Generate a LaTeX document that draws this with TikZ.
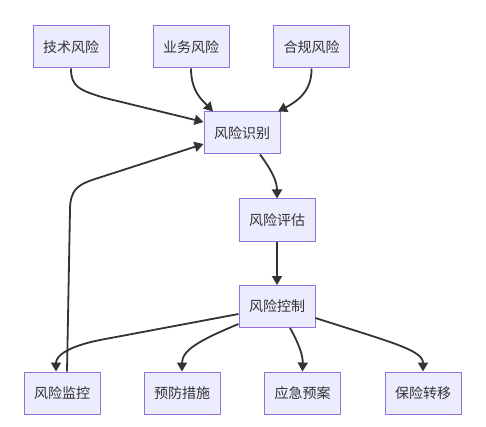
\documentclass[tikz,border=0pt]{standalone}
\usepackage{fontspec}
\setmainfont{Noto Sans CJK SC}
\usetikzlibrary{arrows.meta}
\definecolor{boxfill}{HTML}{ECECFF}
\definecolor{boxline}{HTML}{9370DB}
\definecolor{edgecol}{HTML}{333333}
\tikzset{
  box/.style={draw=boxline, fill=boxfill, line width=1pt, minimum width=76pt, minimum height=42pt, inner sep=0pt, text=edgecol, font=\fontsize{14}{16}\selectfont},
  edge/.style={draw=edgecol, line width=1.8pt, -{Triangle[length=9pt,width=10pt]}},
  plain/.style={draw=edgecol, line width=1.8pt}
}
\begin{document}
\begin{tikzpicture}[x=1pt,y=-1pt]
\useasboundingbox[fill=white] (0,0) rectangle (486,427);
\node[box] (t1) at (71,47) {技术风险};
\node[box] (t2) at (191,47) {业务风险};
\node[box] (t3) at (311.5,47) {合规风险};
\node[box] (r1) at (242,133) {风险识别};
\node[box] (r2) at (277,220) {风险评估};
\node[box] (r3) at (277,306.5) {风险控制};
\node[box] (b1) at (62,393) {风险监控};
\node[box] (b2) at (182,393) {预防措施};
\node[box] (b3) at (302.5,393) {应急预案};
\node[box] (b4) at (423,393) {保险转移};
\coordinate (k1) at (105,98);
\coordinate (k2) at (70,210);
\coordinate (k3) at (92,180);
\coordinate (k4) at (100,340);
\draw[edge] (t1.south) .. controls (71,86) and (78,90) .. (k1) -- ([yshift=11pt]r1.west);
\draw[edge] (t2.south) .. controls (191,92) and (203,101) .. ([xshift=-29pt]r1.north);
\draw[edge] (t3.south) .. controls (312,92) and (296,102) .. ([xshift=36pt]r1.north);
\draw[edge] ([xshift=5pt]b1.north) -- (k2) .. controls (70,190) and (78,185) .. (k3) -- ([yshift=-11pt]r1.west);
\draw[edge] ([xshift=18pt]r1.south) .. controls (270,168) and (277,180) .. (r2.north);
\draw[edge] (r2.south) -- (r3.north);
\draw[edge] ([yshift=-7.5pt]r3.west) -- (k4) .. controls (70,346) and (56,355) .. ([xshift=-6pt]b1.north);
\draw[edge] ([yshift=-17.5pt]r3.west) .. controls (200,340) and (182,350) .. (b2.north);
\draw[edge] ([xshift=13pt]r3.south) .. controls (298,342) and (303,355) .. (b3.north);
\draw[edge] ([yshift=-11.5pt]r3.east) .. controls (390,342) and (423,350) .. (b4.north);
\end{tikzpicture}
\end{document}
